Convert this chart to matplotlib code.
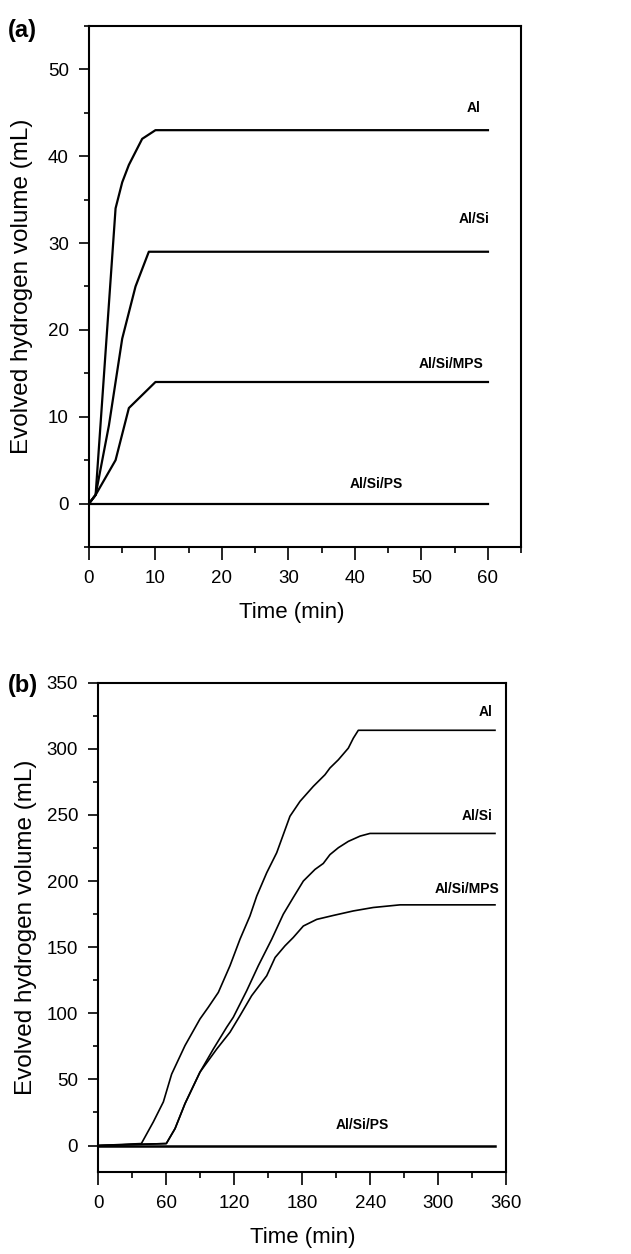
import matplotlib
matplotlib.use("Agg")
import matplotlib.pyplot as plt
from matplotlib.ticker import MultipleLocator

plt.rcParams['font.family'] = ['Liberation Sans', 'DejaVu Sans']

# (a) short run, 0-60 min
a_t_al = [0, 1, 4, 5, 6, 8, 10, 60]
a_v_al = [0, 1, 34, 37, 39, 42, 43, 43]
a_t_alsi = [0, 1, 3, 5, 7, 9, 60]
a_v_alsi = [0, 1, 9, 19, 25, 29, 29]
a_t_mps = [0, 1, 4, 6, 10, 60]
a_v_mps = [0, 1, 5, 11, 14, 14]
a_t_ps = [0, 60]
a_v_ps = [0, 0]

# (b) long run, 0-350 min
b_t_al = [0, 38, 48.5, 57.4, 64.7, 76.5, 89.7, 97, 105.9, 116.2, 125, 133.8,
          139.8, 148.6, 157.4, 169.1, 178, 189.7, 200, 204.4, 211.8, 220.6,
          225, 229.4, 350]
b_v_al = [0, 1.5, 17.8, 33, 54, 75.6, 95.7, 104.5, 115.8, 136, 156, 173.6,
          188.7, 206.3, 221.4, 249, 260.3, 271.6, 280.4, 285.5, 291.7, 300.5,
          308, 314, 314]
b_t_alsi = [0, 60, 67.7, 76.5, 89.7, 101.5, 113.3, 119.1, 130.9, 141.2, 153,
            163.2, 172, 180.9, 191.2, 198.5, 204.4, 211.8, 220.6, 231, 239.7, 350]
b_v_alsi = [0, 1.5, 12.8, 31.7, 55.5, 73, 89.5, 97, 117, 136, 156,
            174.9, 187.5, 200, 208.8, 213.3, 220, 225.2, 230, 234, 236, 236]
b_t_mps = [0, 60, 67.7, 76.5, 89.7, 104.5, 116.2, 125, 135.3, 148.6, 156,
           164.7, 172, 180.9, 192.7, 207.4, 225, 242.6, 266.2, 350]
b_v_mps = [0, 1.5, 12.8, 31.7, 55.5, 73, 85.7, 98.2, 113.3, 128.4, 142.2,
           151, 157.3, 166, 171, 174, 177.4, 180, 182, 182]
b_t_ps = [0, 350]
b_v_ps = [0, 0]

labels = ['Al', 'Al/Si', 'Al/Si/MPS', 'Al/Si/PS']

fig = plt.figure(figsize=(6.31, 12.54), dpi=100)
ax1 = fig.add_axes([0.141, 0.5638, 0.685, 0.4155])
ax2 = fig.add_axes([0.1558, 0.0654, 0.6466, 0.3902])


def style(ax):
    for s in ax.spines.values():
        s.set_linewidth(1.5)
    ax.tick_params(which='both', direction='out', top=False, right=False,
                   labelsize=13.5, width=1.2)
    ax.tick_params(axis='x', which='major', length=9.5, pad=7)
    ax.tick_params(axis='x', which='minor', length=4.5)
    ax.tick_params(axis='y', which='major', length=7.5, pad=7)
    ax.tick_params(axis='y', which='minor', length=3.8)
    ax.set_xlabel('Time (min)', fontsize=16, labelpad=11)
    ax.set_ylabel('Evolved hydrogen volume (mL)', fontsize=17.5)


# panel (a)
for t, v in [(a_t_al, a_v_al), (a_t_alsi, a_v_alsi), (a_t_mps, a_v_mps), (a_t_ps, a_v_ps)]:
    ax1.plot(t, v, color='black', lw=1.6)
ax1.set_xlim(0, 65)
ax1.set_ylim(-5, 55)
ax1.set_xticks([0, 10, 20, 30, 40, 50, 60])
ax1.set_yticks([0, 10, 20, 30, 40, 50])
ax1.xaxis.set_minor_locator(MultipleLocator(5))
ax1.yaxis.set_minor_locator(MultipleLocator(5))
style(ax1)
for lab, x, y in zip(labels, [57.9, 57.9, 54.5, 43.2], [45.5, 32.8, 16.1, 2.3]):
    ax1.text(x, y, lab, fontsize=10, fontweight='bold', ha='center', va='center')
ax1.yaxis.set_label_coords(-0.13, 0.5)
ax1.xaxis.set_label_coords(0.47, -0.105)

# panel (b)
ax2.plot(b_t_al, b_v_al, color='black', lw=1.2)
ax2.plot(b_t_alsi, b_v_alsi, color='black', lw=1.2)
ax2.plot(b_t_mps, b_v_mps, color='black', lw=1.2)
ax2.plot(b_t_ps, b_v_ps, color='black', lw=1.8)
ax2.set_xlim(0, 360)
ax2.set_ylim(-20, 350)
ax2.set_xticks([0, 60, 120, 180, 240, 300, 360])
ax2.set_yticks([0, 50, 100, 150, 200, 250, 300, 350])
ax2.xaxis.set_minor_locator(MultipleLocator(30))
ax2.yaxis.set_minor_locator(MultipleLocator(25))
style(ax2)
for lab, x, y in zip(labels, [342, 334, 325.6, 233], [328, 249, 193.7, 15.3]):
    ax2.text(x, y, lab, fontsize=10, fontweight='bold', ha='center', va='center')
ax2.yaxis.set_label_coords(-0.15, 0.5)
ax2.xaxis.set_label_coords(0.5, -0.112)

fig.text(0.012, 0.976, '(a)', fontsize=17, fontweight='bold', va='center')
fig.text(0.012, 0.453, '(b)', fontsize=17, fontweight='bold', va='center')

fig.savefig('out.png', dpi=100)
